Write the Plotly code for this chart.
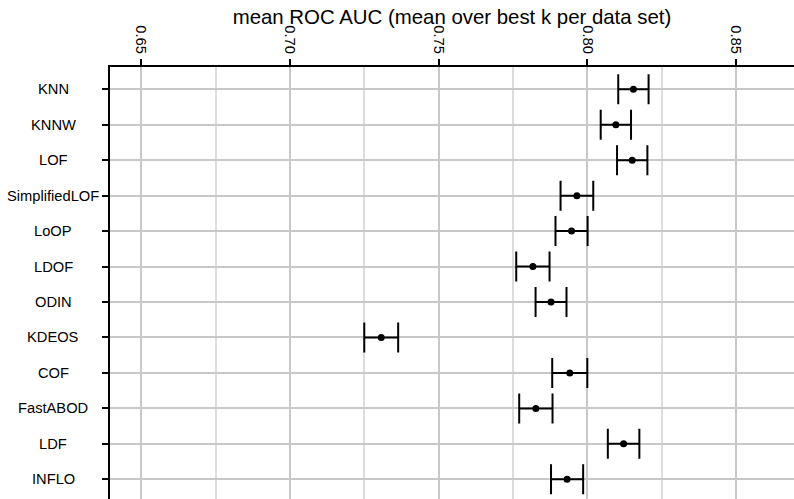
import plotly.graph_objects as go

# Outlier detection methods and their mean ROC AUC (best k per data set)
methods = ["KNN", "KNNW", "LOF", "SimplifiedLOF", "LoOP", "LDOF", "ODIN",
           "KDEOS", "COF", "FastABOD", "LDF", "INFLO"]
mean_auc = [0.8155, 0.8096, 0.8151, 0.7965, 0.7947, 0.7817, 0.7878,
            0.7307, 0.7941, 0.7827, 0.8122, 0.7932]
ci_half = [0.0051, 0.0051, 0.0051, 0.0055, 0.0054, 0.0056, 0.0052,
           0.0057, 0.0059, 0.0056, 0.0053, 0.0054]
x_ticks = [0.65, 0.70, 0.75, 0.80, 0.85]
x_tick_text = ["0.65", "0.70", "0.75", "0.80", "0.85"]

rows = list(range(len(methods)))
font_family = "Liberation Sans, Arial, Helvetica, sans-serif"
label_size = 14.7

fig = go.Figure(
    go.Scatter(
        x=mean_auc,
        y=rows,
        mode="markers",
        marker=dict(color="black", size=7),
        error_x=dict(type="data", array=ci_half, symmetric=True,
                     color="black", thickness=2, width=15),
        showlegend=False,
        cliponaxis=False,
    )
)

# Method names, centred in the left margin
for r, name in zip(rows, methods):
    fig.add_annotation(
        x=-0.0828, xref="paper", y=r, yref="y",
        text=name, showarrow=False, xanchor="center", yanchor="middle",
        font=dict(size=label_size, family=font_family, color="black"),
    )

fig.update_layout(
    width=794,
    height=499,
    margin=dict(l=110, r=0, t=67, b=0, pad=0),
    paper_bgcolor="white",
    plot_bgcolor="white",
    font=dict(family=font_family, color="black", size=label_size),
    title=dict(
        text="mean ROC AUC (mean over best k per data set)",
        font=dict(size=20.4, family=font_family, color="black"),
        x=0.5, xref="paper", xanchor="center",
        y=1 - 17 / 499, yref="container", yanchor="middle",
    ),
)

fig.update_xaxes(
    side="top",
    range=[0.6395, 0.8695],
    tickvals=x_ticks,
    ticktext=x_tick_text,
    tickangle=90,
    ticks="outside",
    ticklen=6,
    tickwidth=1.5,
    tickcolor="black",
    showline=True,
    linecolor="black",
    linewidth=2,
    showgrid=True,
    gridcolor="#c8c8c8",
    gridwidth=1.5,
    minor=dict(dtick=0.025, tick0=0.625, showgrid=True,
               gridcolor="#dcdcdc", gridwidth=1.5, ticks=""),
    zeroline=False,
    tickfont=dict(size=label_size),
)

fig.update_yaxes(
    range=[11.556, -0.629],
    tickvals=rows,
    showticklabels=False,
    ticks="outside",
    ticklen=6,
    tickwidth=2,
    tickcolor="black",
    showline=True,
    linecolor="black",
    linewidth=2,
    showgrid=True,
    gridcolor="#c8c8c8",
    gridwidth=1.5,
    zeroline=False,
)

fig.write_html("out.html")
